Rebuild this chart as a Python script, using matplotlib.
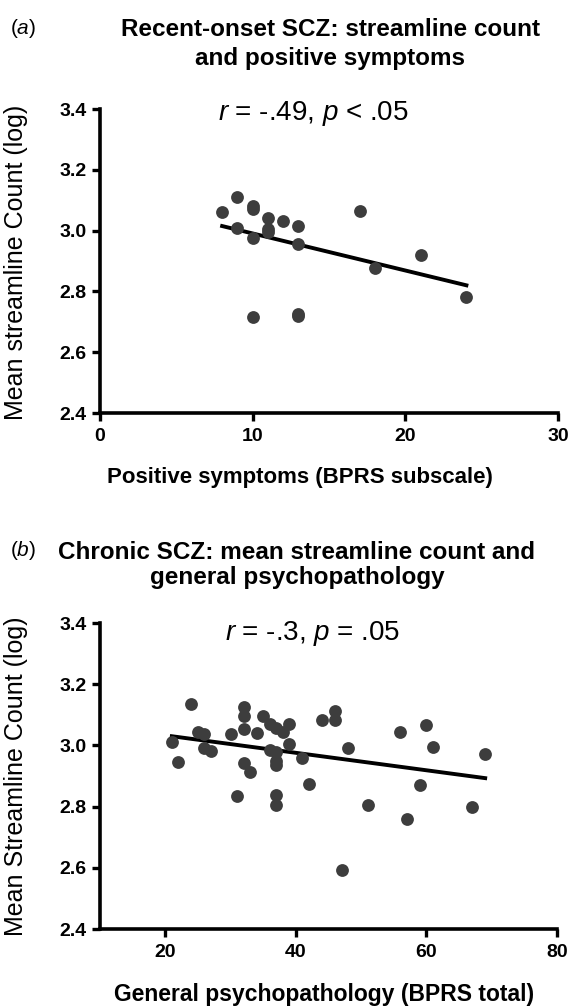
import numpy as np
import matplotlib
matplotlib.use('Agg')
import matplotlib.pyplot as plt

plt.rcParams['font.family'] = ['Liberation Sans', 'DejaVu Sans']
plt.rcParams['mathtext.fontset'] = 'custom'
plt.rcParams['mathtext.rm'] = 'Liberation Sans'
plt.rcParams['mathtext.it'] = 'Liberation Sans:italic'
plt.rcParams['mathtext.bf'] = 'Liberation Sans:bold'

# Panel a: recent-onset SCZ
pos_sympt = [8, 9, 9, 10, 10, 10, 10, 11, 11, 11, 12, 13, 13, 13, 13, 17, 18, 21, 24]
count_a = [3.06, 3.11, 3.01, 3.08, 3.07, 2.976, 2.716, 3.04, 3.005, 2.995, 3.03,
           3.016, 2.956, 2.727, 2.72, 3.065, 2.878, 2.92, 2.78]
fit_a_x = [8, 24]
fit_a_y = [3.015, 2.82]

# Panel b: chronic SCZ
bprs_total = [21, 22, 24, 25, 26, 26, 27, 30, 31, 32, 32, 32, 32, 33, 34, 35, 36, 36,
              37, 37, 37, 37, 37, 37, 38, 39, 39, 41, 42, 44, 46, 46, 47, 48, 51, 56,
              57, 59, 60, 61, 67, 69]
count_b = [3.01, 2.945, 3.136, 3.043, 3.038, 2.99, 2.983, 3.038, 2.836, 3.124, 3.097,
           3.054, 2.942, 2.912, 3.04, 3.095, 3.071, 2.986, 3.057, 2.98, 2.948, 2.937,
           2.839, 2.806, 3.043, 3.071, 3.005, 2.959, 2.875, 3.082, 3.111, 3.084, 2.594,
           2.992, 2.804, 3.043, 2.761, 2.872, 3.068, 2.995, 2.798, 2.973]
fit_b_x = [21, 69]
fit_b_y = [3.03, 2.893]

yticks = [2.4, 2.6, 2.8, 3.0, 3.2, 3.4]
ytick_labels = ['2.4', '2.6', '2.8', '3.0', '3.2', '3.4']

W, H = 574, 1006
fig = plt.figure(figsize=(W / 100, H / 100), dpi=100)


def style(ax):
    for s in ['top', 'right']:
        ax.spines[s].set_visible(False)
    for s in ['left', 'bottom']:
        ax.spines[s].set_linewidth(2.6)
    ax.tick_params(axis='x', pad=5)
    ax.tick_params(width=2.4, length=6, labelsize=14)
    for lab in ax.get_xticklabels() + ax.get_yticklabels():
        lab.set_fontweight('bold')


# ---- panel a
ax1 = fig.add_axes([100 / W, 1 - 413 / H, 458 / W, 304 / H])
ax1.scatter(pos_sympt, count_a, s=85, color='#3d3d3d', zorder=3, linewidths=0)
ax1.plot(fit_a_x, fit_a_y, color='black', lw=2.8)
ax1.set_xlim(0, 30)
ax1.set_ylim(2.4, 3.4)
ax1.set_xticks([0, 10, 20, 30])
ax1.set_yticks(yticks)
ax1.set_yticklabels(ytick_labels)
style(ax1)
fig.text(300 / W, 1 - 478 / H, 'Positive symptoms (BPRS subscale)', fontsize=16,
         fontweight='bold', ha='center', va='center')
fig.text(16 / W, 1 - 262 / H, 'Mean streamline Count (log)', rotation=90, fontsize=18,
         ha='center', va='center')
fig.text(23 / W, 1 - 28 / H, '($\\it{a}$)', fontsize=15, ha='center', va='center')
fig.text(330 / W, 1 - 44 / H, 'Recent-onset SCZ: streamline count\nand positive symptoms',
         fontsize=17.5, fontweight='bold', ha='center', va='center', linespacing=1.3)
fig.text(313 / W, 1 - 113 / H, '$\\it{r}$ = -.49, $\\it{p}$ < .05', fontsize=20,
         ha='center', va='center')

# ---- panel b
ax2 = fig.add_axes([100 / W, 1 - 929 / H, 457 / W, 306 / H])
ax2.scatter(bprs_total, count_b, s=85, color='#3d3d3d', zorder=3, linewidths=0)
ax2.plot(fit_b_x, fit_b_y, color='black', lw=2.8)
ax2.set_xlim(10, 80)
ax2.set_ylim(2.4, 3.4)
ax2.set_xticks([20, 40, 60, 80])
ax2.set_yticks(yticks)
ax2.set_yticklabels(ytick_labels)
style(ax2)
fig.text(324 / W, 1 - 995 / H, 'General psychopathology (BPRS total)', fontsize=16.5,
         fontweight='bold', ha='center', va='center')
fig.text(16 / W, 1 - 776 / H, 'Mean Streamline Count (log)', rotation=90, fontsize=18,
         ha='center', va='center')
fig.text(23 / W, 1 - 550 / H, '($\\it{b}$)', fontsize=15, ha='center', va='center')
fig.text(297 / W, 1 - 565 / H, 'Chronic SCZ: mean streamline count and\ngeneral psychopathology',
         fontsize=17.5, fontweight='bold', ha='center', va='center', linespacing=1.15)
fig.text(313 / W, 1 - 633 / H, '$\\it{r}$ = -.3, $\\it{p}$ = .05', fontsize=20,
         ha='center', va='center')

fig.savefig('out.png', dpi=100)
